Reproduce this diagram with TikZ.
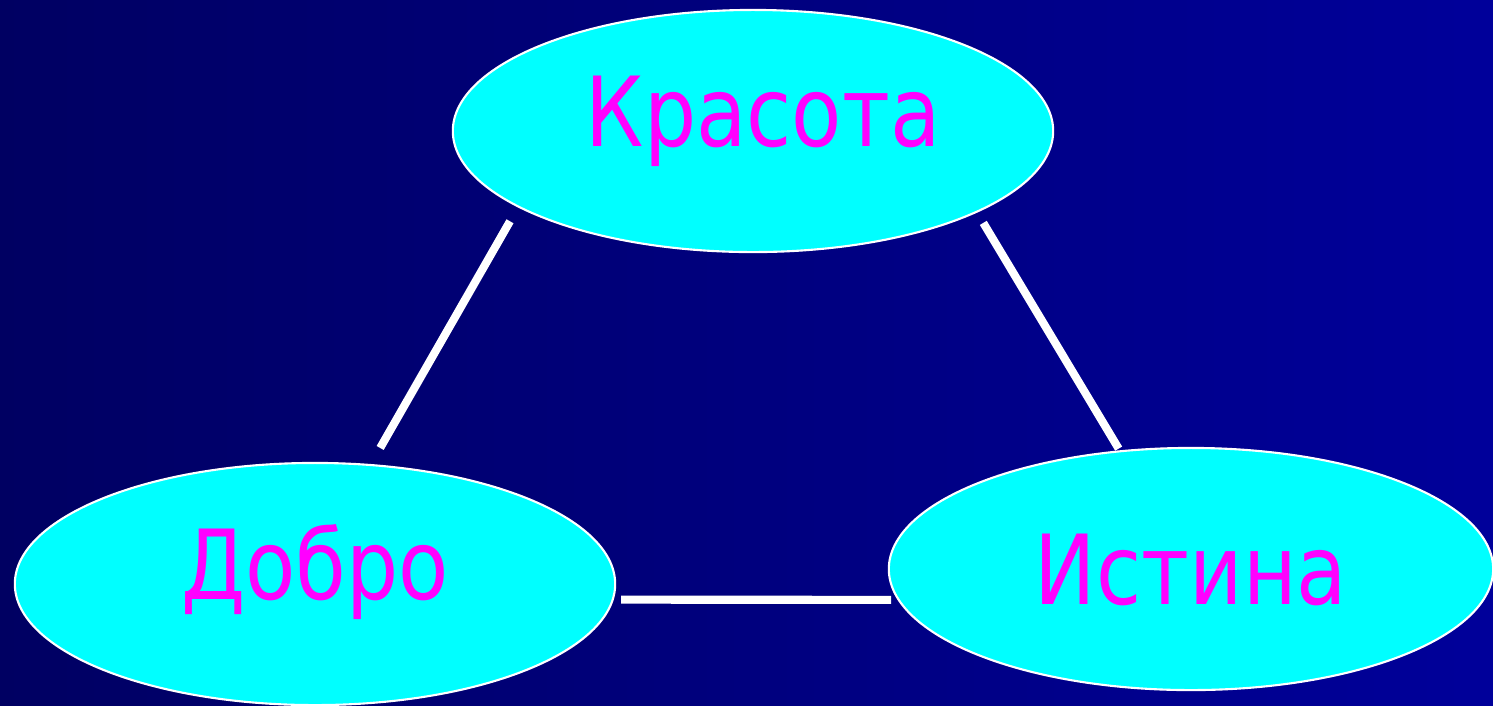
\documentclass[tikz,border=0pt]{standalone}
\usepackage{fontspec}
\usepackage{tikz}
\usetikzlibrary{shapes.geometric, positioning}
\newfontfamily\wordfont[FakeStretch=0.85]{DejaVu Sans}
\definecolor{bgleft}{HTML}{000062}
\definecolor{bgright}{HTML}{00009A}
\definecolor{wordfill}{HTML}{00FFFF}
\definecolor{wordtext}{HTML}{FF00FF}
\tikzstyle{word} = [ellipse, inner sep=0pt, minimum width=6cm, minimum height=2.42cm, draw=white, line width=0.6pt, fill=wordfill, text=wordtext, font=\wordfont\fontsize{27.5}{30}\selectfont, text height=0.7cm, text depth=0.4cm]
\tikzstyle{link} = [draw=white, line width=2.3pt]

\begin{document}
\begin{tikzpicture}[x=0.01cm, y=-0.01cm]

% Background
\shade[left color=bgleft, right color=bgright] (0,0) rectangle (1493,705);
\useasboundingbox (0,0) rectangle (1493,705);

% Nodes
\node (krasota) [word] at (753,131) {\hspace{0.2cm}Красота};
\node (dobro) [word] at (315,584) {Добро};
\node (istina) [word, minimum width=6.04cm, text depth=0cm] at (1191,569) {Истина};

% Links
\draw [link, shorten <=0.16cm, shorten >=0.185cm] (krasota.198.4) -- (dobro.65.8);
\draw [link, shorten <=0.12cm, shorten >=0.02cm] (krasota.340.2) -- (istina.121.7);
\draw [link, shorten <=0.073cm, shorten >=0.064cm] (dobro.-3.75) -- (istina.186.6);

\end{tikzpicture}
\end{document}
